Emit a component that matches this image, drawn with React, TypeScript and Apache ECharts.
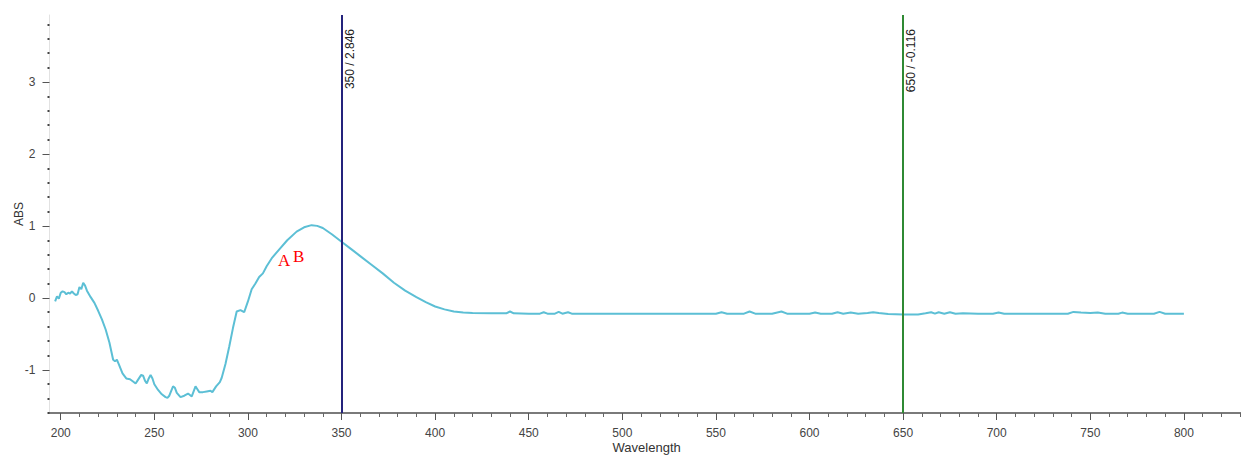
import React, { useEffect, useRef } from "react";
import * as echarts from "echarts";

const wavelength = [
  197, 198, 199, 200, 201, 202, 203, 204, 205, 206, 207, 208, 209, 210, 211, 212, 213, 214, 216, 218,
  220, 222, 224, 226, 228, 229, 230, 231, 233, 235, 237, 239, 240, 241, 243, 244, 245, 246, 247, 248,
  249, 250, 252, 254, 256, 257, 258, 260, 261, 262, 264, 266, 268, 270, 271, 272, 273, 274, 276, 278,
  280, 281, 283, 285, 286, 288, 290, 292, 294, 296, 298, 300, 302, 304, 306, 308, 310, 313, 317, 321,
  326, 330, 334, 337, 340, 345, 350, 355, 360, 366, 372, 378, 384, 390, 395, 400, 405, 410, 415, 420,
  430, 438, 440, 442, 450, 456, 458, 460, 464, 466, 468, 471, 473, 480, 490, 500, 510, 520, 530, 540,
  550, 553, 556, 565, 568, 571, 580, 585, 588, 600, 603, 606, 612, 615, 618, 622, 626, 631, 634, 637,
  642, 650, 658, 662, 665, 667, 669, 672, 675, 678, 682, 690, 698, 701, 704, 720, 738, 741, 745, 750,
  754, 758, 765, 767, 770, 784, 787, 790, 800,
];

const absorbance = [
  -0.05, 0.02, -0.01, 0.07, 0.09, 0.08, 0.05, 0.07, 0.06, 0.09, 0.06, 0.04, 0.05, 0.15, 0.12, 0.21, 0.17, 0.1, 0.01, -0.07,
  -0.18, -0.3, -0.44, -0.62, -0.86, -0.88, -0.86, -0.92, -1.05, -1.12, -1.13, -1.17, -1.19, -1.15, -1.07, -1.08, -1.15, -1.19, -1.12, -1.07,
  -1.12, -1.2, -1.28, -1.34, -1.38, -1.39, -1.36, -1.23, -1.25, -1.32, -1.38, -1.36, -1.33, -1.37, -1.3, -1.23, -1.27, -1.31, -1.31, -1.3,
  -1.29, -1.31, -1.23, -1.17, -1.11, -0.92, -0.68, -0.42, -0.19, -0.17, -0.2, -0.05, 0.12, 0.2, 0.29, 0.34, 0.44, 0.56, 0.68, 0.8,
  0.92, 0.98, 1.01, 1.0, 0.97, 0.88, 0.78, 0.68, 0.58, 0.46, 0.34, 0.21, 0.1, 0.01, -0.06, -0.12, -0.16, -0.19, -0.205, -0.21,
  -0.215, -0.215, -0.19, -0.215, -0.22, -0.22, -0.2, -0.22, -0.22, -0.195, -0.22, -0.2, -0.22, -0.22, -0.22, -0.22, -0.22, -0.22, -0.22, -0.22,
  -0.22, -0.2, -0.22, -0.22, -0.19, -0.22, -0.22, -0.19, -0.22, -0.22, -0.205, -0.22, -0.22, -0.2, -0.22, -0.205, -0.22, -0.21, -0.2, -0.21,
  -0.225, -0.23, -0.23, -0.215, -0.2, -0.22, -0.2, -0.22, -0.2, -0.22, -0.215, -0.22, -0.22, -0.205, -0.22, -0.22, -0.22, -0.195, -0.205, -0.21,
  -0.205, -0.22, -0.22, -0.205, -0.22, -0.22, -0.195, -0.22, -0.22,
];

const xMajorTicks = [200, 250, 300, 350, 400, 450, 500, 550, 600, 650, 700, 750, 800];
const xMinorTicks = [
  200, 210, 220, 230, 240, 250, 260, 270, 280, 290, 300, 310, 320, 330, 340, 350, 360, 370, 380, 390,
  400, 410, 420, 430, 440, 450, 460, 470, 480, 490, 500, 510, 520, 530, 540, 550, 560, 570, 580, 590,
  600, 610, 620, 630, 640, 650, 660, 670, 680, 690, 700, 710, 720, 730, 740, 750, 760, 770, 780, 790,
  800, 810, 820, 830,
];
const yMajorTicks = [-1, 0, 1, 2, 3];
const yMinorTicks = [
  -1.6, -1.4, -1.2, -0.8, -0.6, -0.4, -0.2, 0.2, 0.4, 0.6, 0.8, 1.2, 1.4, 1.6, 1.8, 2.2, 2.4, 2.6, 2.8,
  3.2, 3.4, 3.6, 3.8,
];

const markers = [
  { wl: 350, label: "350 / 2.846", color: "#24237c" },
  { wl: 650, label: "650 / -0.116", color: "#2f8a34" },
];

const FONT = "'Liberation Sans', Arial, sans-serif";

export default function App() {
  const ref = useRef<HTMLDivElement>(null);

  useEffect(() => {
    if (!ref.current) return;
    const chart = echarts.init(ref.current, null, { renderer: "svg" });
    const data = wavelength.map((w, i) => [w, absorbance[i]]);
    const xMin = 194;
    const xMax = 832;
    const yMin = -1.6;
    const yMax = 3.93;

    chart.setOption({
      animation: false,
      backgroundColor: "#ffffff",
      textStyle: { fontFamily: FONT },
      grid: {
        left: 49.5,
        right: -2.8,
        top: 15,
        bottom: 42,
        containLabel: false,
        outerBoundsMode: "none",
      },
      xAxis: [
        {
          type: "value",
          min: xMin,
          max: xMax,
          position: "bottom",
          axisLine: { show: true, onZero: false, lineStyle: { color: "#7a7a7a", width: 2 } },
          axisTick: { show: true, customValues: xMinorTicks, length: 4, lineStyle: { color: "#666", width: 1 } },
          axisLabel: { show: false },
          splitLine: { show: false },
        },
        {
          type: "value",
          min: xMin,
          max: xMax,
          position: "bottom",
          axisLine: { show: false, onZero: false },
          axisTick: { show: true, customValues: xMajorTicks, length: 7, lineStyle: { color: "#555", width: 1 } },
          axisLabel: { customValues: xMajorTicks, margin: 14, color: "#444", fontSize: 12, fontFamily: FONT },
          splitLine: { show: false },
          name: "Wavelength",
          nameLocation: "middle",
          nameGap: 28,
          nameMoveOverlap: false,
          nameTextStyle: { color: "#333", fontSize: 13, fontFamily: FONT },
        },
      ],
      yAxis: [
        {
          type: "value",
          min: yMin,
          max: yMax,
          position: "left",
          axisLine: { show: true, onZero: false, lineStyle: { color: "#e2e2e2", width: 1 } },
          axisTick: { show: true, customValues: yMinorTicks, length: 2, lineStyle: { color: "#444", width: 2 } },
          axisLabel: { show: false },
          splitLine: { show: false },
        },
        {
          type: "value",
          min: yMin,
          max: yMax,
          position: "left",
          axisLine: { show: false, onZero: false },
          axisTick: { show: true, customValues: yMajorTicks, length: 7, lineStyle: { color: "#555", width: 1 } },
          axisLabel: { customValues: yMajorTicks, margin: 14, color: "#444", fontSize: 12, fontFamily: FONT },
          splitLine: { show: false },
          name: "ABS",
          nameLocation: "middle",
          nameGap: 25,
          nameMoveOverlap: false,
          nameRotate: 90,
          nameTextStyle: { color: "#333", fontSize: 12, fontFamily: FONT },
        },
      ],
      series: [
        {
          type: "line",
          xAxisIndex: 0,
          yAxisIndex: 0,
          data,
          showSymbol: false,
          symbol: "none",
          lineStyle: { color: "#5cbfd5", width: 2 },
          z: 2,
          markLine: {
            silent: true,
            symbol: "none",
            animation: false,
            label: {
              show: true,
              position: "insideEndBottom",
              distance: [14, 2],
              color: "#222",
              fontSize: 12,
              fontFamily: FONT,
            },
            data: markers.map((m) => ({
              xAxis: m.wl,
              lineStyle: { color: m.color, width: 2, type: "solid" },
              label: { formatter: m.label },
            })),
          },
        },
      ],
      graphic: [
        {
          type: "text",
          left: 278,
          top: 252,
          style: { text: "A", fill: "#ff0000", fontSize: 17, fontFamily: "'Liberation Serif', 'Times New Roman', serif" },
          z: 10,
        },
        {
          type: "text",
          left: 293,
          top: 248,
          style: { text: "B", fill: "#ff0000", fontSize: 17, fontFamily: "'Liberation Serif', 'Times New Roman', serif" },
          z: 10,
        },
      ],
    });

    return () => chart.dispose();
  }, []);

  return (
    <div
      ref={ref}
      style={{ position: "fixed", left: 0, top: 0, width: 1241, height: 455, background: "#fff" }}
    />
  );
}
